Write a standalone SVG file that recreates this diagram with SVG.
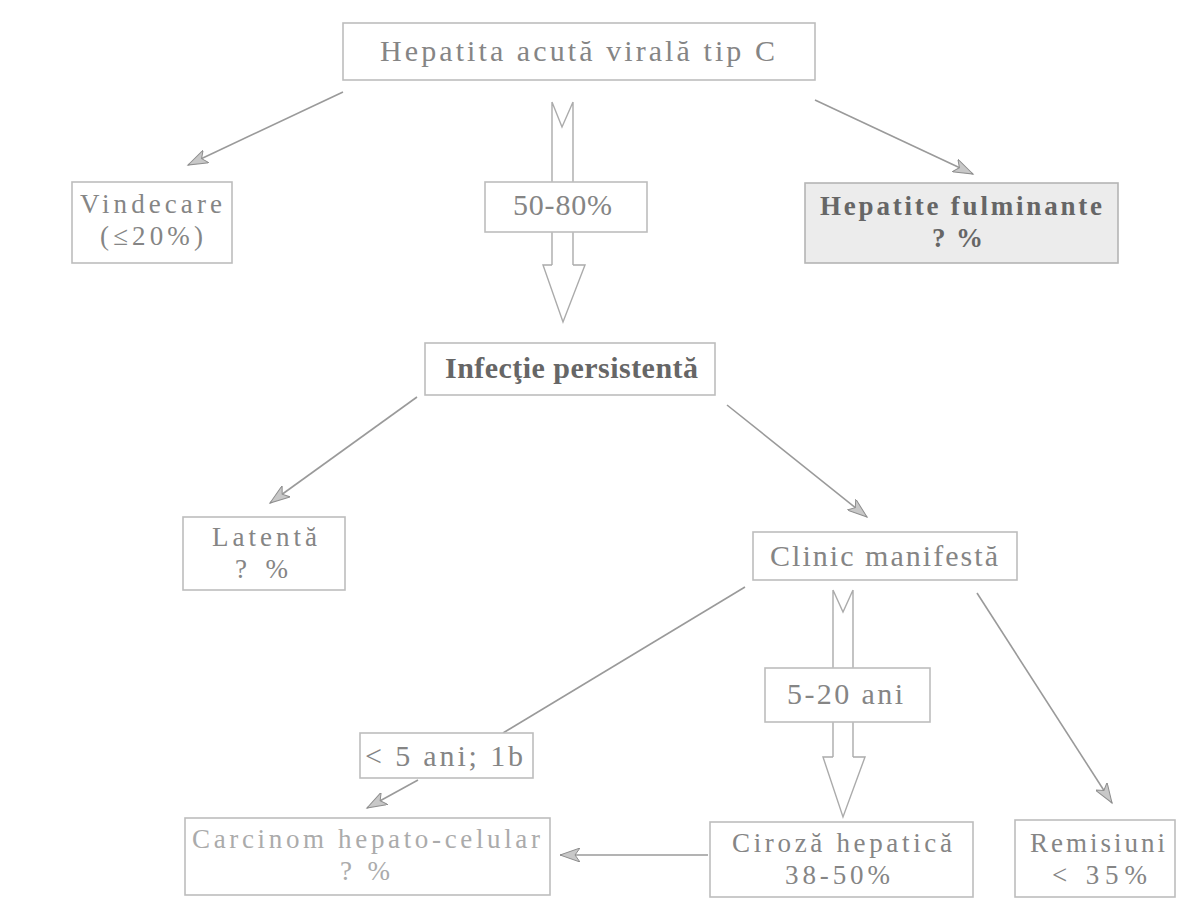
<svg xmlns="http://www.w3.org/2000/svg" width="1193" height="899" viewBox="0 0 1193 899">
<style>
.box{fill:#ffffff;stroke:#bdbdbd;stroke-width:1.6}
.boxg{fill:#ececec;stroke:#b5b5b5;stroke-width:1.6}
.t{font-family:"Liberation Serif","DejaVu Serif",serif;font-size:30px;fill:#858585}
.t2{font-family:"Liberation Serif","DejaVu Serif",serif;font-size:27px;fill:#858585}
.tb{font-family:"Liberation Serif","DejaVu Serif",serif;font-size:30px;font-weight:bold;fill:#666666}
.tb2{font-family:"Liberation Serif","DejaVu Serif",serif;font-size:27px;font-weight:bold;fill:#666666}
.tl{font-family:"Liberation Serif","DejaVu Serif",serif;font-size:27px;fill:#ababab}
.ln{stroke:#9a9a9a;stroke-width:1.6;fill:none}
.big{stroke:#ababab;stroke-width:1.4;fill:none}
</style>
<defs>
<marker id="ah" markerWidth="22" markerHeight="14" refX="20" refY="7" orient="auto" markerUnits="userSpaceOnUse">
<path d="M0,0 L20,7 L0,14 L5,7 Z" fill="#c8c8c8" stroke="#8e8e8e" stroke-width="1"/>
</marker>
</defs>
<rect width="1193" height="899" fill="#ffffff"/>
<g id="connectors">
<line class="ln" x1="343" y1="92" x2="188" y2="165" marker-end="url(#ah)"/>
<line class="ln" x1="815" y1="100" x2="973" y2="174" marker-end="url(#ah)"/>
<line class="ln" x1="417" y1="397" x2="270" y2="503" marker-end="url(#ah)"/>
<line class="ln" x1="727" y1="405" x2="867" y2="517" marker-end="url(#ah)"/>
<line class="ln" x1="745" y1="587" x2="503" y2="733"/>
<line class="ln" x1="418" y1="780" x2="367" y2="808" marker-end="url(#ah)"/>
<line class="ln" x1="977" y1="593" x2="1112" y2="803" marker-end="url(#ah)"/>
<line class="ln" x1="708" y1="855" x2="560" y2="855" marker-end="url(#ah)"/>
<g id="bigarrow1">
<path class="big" d="M552,102 L562,127 L573,102 M552,102 L552,265 M573,102 L573,265 M552,265 L543,265 L563,322 L585,265 L573,265"/>
</g>
<g id="bigarrow2">
<path class="big" d="M833,590 L843,612 L853,590 M833,590 L833,757 M853,590 L853,757 M833,757 L823,757 L843,817 L865,757 L853,757"/>
</g>
</g>
<g id="n-hepatita">
<rect class="box" x="343" y="23" width="472" height="57"/>
<text class="t" x="380" y="61" textLength="395" lengthAdjust="spacing">Hepatita acută virală tip C</text>
</g>
<g id="n-vindecare">
<rect class="box" x="72" y="182" width="160" height="81"/>
<text class="t2" x="80" y="213" textLength="142" lengthAdjust="spacing">Vindecare</text>
<text class="t2" x="100" y="245" textLength="103" lengthAdjust="spacing">(≤20%)</text>
</g>
<g id="n-5080">
<rect class="box" x="485" y="182" width="162" height="50"/>
<text class="t" x="513" y="215" textLength="99" lengthAdjust="spacing">50-80%</text>
</g>
<g id="n-fulminante">
<rect class="boxg" x="805" y="183" width="313" height="80"/>
<text class="tb2" x="820" y="215" textLength="282" lengthAdjust="spacing">Hepatite fulminante</text>
<text class="tb2" x="932" y="247" textLength="51" lengthAdjust="spacing">? %</text>
</g>
<g id="n-infectie">
<rect class="box" x="425" y="343" width="290" height="52"/>
<text class="tb" x="445" y="378" textLength="253" lengthAdjust="spacing">Infecţie persistentă</text>
</g>
<g id="n-latenta">
<rect class="box" x="183" y="517" width="162" height="73"/>
<text class="t2" x="212" y="546" textLength="105" lengthAdjust="spacing">Latentă</text>
<text class="t2" x="235" y="578" textLength="53" lengthAdjust="spacing">? %</text>
</g>
<g id="n-clinic">
<rect class="box" x="753" y="532" width="264" height="48"/>
<text class="t" x="770" y="566" textLength="228" lengthAdjust="spacing">Clinic manifestă</text>
</g>
<g id="n-520">
<rect class="box" x="765" y="668" width="165" height="54"/>
<text class="t" x="787" y="704" textLength="116" lengthAdjust="spacing">5-20 ani</text>
</g>
<g id="n-5ani">
<rect class="box" x="360" y="733" width="173" height="45"/>
<text class="t" x="365" y="766" textLength="158" lengthAdjust="spacing">&lt; 5 ani; 1b</text>
</g>
<g id="n-carcinom">
<rect class="box" x="185" y="818" width="365" height="77"/>
<text class="tl" x="192" y="848" textLength="348" lengthAdjust="spacing">Carcinom hepato-celular</text>
<text class="tl" x="340" y="880" textLength="50" lengthAdjust="spacing">? %</text>
</g>
<g id="n-ciroza">
<rect class="box" x="710" y="822" width="263" height="75"/>
<text class="t2" x="732" y="852" textLength="220" lengthAdjust="spacing">Ciroză hepatică</text>
<text class="t2" x="785" y="884" textLength="105" lengthAdjust="spacing">38-50%</text>
</g>
<g id="n-remisiuni">
<rect class="box" x="1015" y="820" width="160" height="77"/>
<text class="t2" x="1030" y="852" textLength="135" lengthAdjust="spacing">Remisiuni</text>
<text class="t2" x="1052" y="884" textLength="95" lengthAdjust="spacing">&lt; 35%</text>
</g>
</svg>
